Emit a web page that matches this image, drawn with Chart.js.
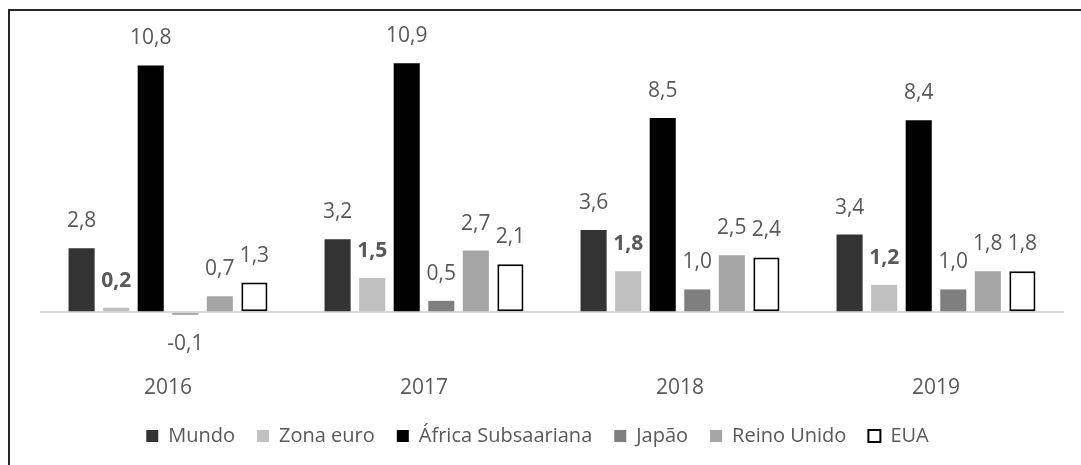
<!DOCTYPE html>
<html>
<head>
<meta charset="utf-8">
<script src="https://cdn.jsdelivr.net/npm/chart.js@4.4.1/dist/chart.umd.min.js"></script>
<style>
  html, body { margin: 0; padding: 0; background: #fff; }
  #wrap { position: relative; width: 1081px; height: 465px; overflow: hidden; }
  #frame {
    position: absolute; left: 8px; top: 9px; width: 1100px; height: 500px;
    border-top: 2px solid #262626; border-left: 2px solid #262626;
  }
  canvas { position: absolute; left: 0; top: 0; }
</style>
</head>
<body>
<div id="wrap">
  <div id="frame"></div>
  <canvas id="chart" width="1081" height="465"></canvas>
</div>
<script>
// ---- data ---------------------------------------------------
const years       = ['2016', '2017', '2018', '2019'];
const mundo       = [2.8, 3.2, 3.6, 3.4];
const zonaEuro    = [0.2, 1.5, 1.8, 1.2];
const africaSub   = [10.8, 10.9, 8.5, 8.4];
const japao       = [-0.1, 0.5, 1.0, 1.0];
const reinoUnido  = [0.7, 2.7, 2.5, 1.8];
const eua         = [1.3, 2.1, 2.4, 1.8];

const TEXT = '#595959';
const FONT = "'Open Sans', 'Segoe UI', sans-serif";

function series(label, data, fill, extra) {
  return Object.assign({
    label, data,
    backgroundColor: fill,
    borderColor: fill,
    borderWidth: 0,
    categoryPercentage: 0.81,
    barPercentage: 0.755,
  }, extra || {});
}

const datasets = [
  series('Mundo', mundo, '#333333'),
  series('Zona euro', zonaEuro, '#c0c0c0', { boldLabel: true }),
  series('África Subsaariana', africaSub, '#000000'),
  series('Japão', japao, '#7f7f7f'),
  series('Reino Unido', reinoUnido, '#a5a5a5'),
  series('EUA', eua, '#ffffff', { borderColor: '#000000', borderWidth: 2, borderSkipped: false }),
];

// value labels over (or under) each bar, decimal comma
const valueLabels = {
  id: 'valueLabels',
  afterDatasetsDraw(chart) {
    const ctx = chart.ctx;
    ctx.save();
    ctx.textAlign = 'center';
    ctx.textBaseline = 'middle';
    ctx.fillStyle = TEXT;
    chart.data.datasets.forEach((ds, i) => {
      ctx.font = (ds.boldLabel ? 'bold ' : '') + '21px ' + FONT;
      chart.getDatasetMeta(i).data.forEach((bar, j) => {
        const v = ds.data[j];
        const txt = v.toFixed(1).replace('.', ',');
        const y = v >= 0 ? bar.y - 27 : bar.y + 29;
        ctx.fillText(txt, bar.x, y);
      });
    });
    ctx.restore();
  }
};

new Chart(document.getElementById('chart'), {
  type: 'bar',
  data: { labels: years, datasets },
  plugins: [valueLabels],
  options: {
    responsive: false,
    animation: false,
    layout: { padding: { left: 0, right: 6, top: 38, bottom: 9 } },
    plugins: {
      tooltip: { enabled: false },
      legend: {
        position: 'bottom',
        labels: {
          color: TEXT,
          font: { family: FONT, size: 20 },
          boxWidth: 12,
          boxHeight: 12,
          padding: 22,
        },
      },
    },
    scales: {
      x: {
        grid: { display: false, drawTicks: false },
        border: { display: false },
        ticks: { color: TEXT, font: { family: FONT, size: 21 }, padding: 17 },
        afterFit: s => { s.height = 46; },
      },
      y: {
        min: -2,
        max: 12,
        border: { display: false },
        grid: {
          drawTicks: false,
          lineWidth: 2,
          color: c => c.tick.value === 0 ? '#d9d9d9' : 'rgba(0,0,0,0)',
        },
        ticks: { display: false, stepSize: 1 },
        afterFit: s => { s.width = 40; },
      },
      y2: {
        position: 'right',
        min: -2,
        max: 12,
        border: { display: false },
        grid: { display: false, drawTicks: false },
        ticks: { display: false },
        afterFit: s => { s.width = 11; },
      },
    },
  },
});
</script>
</body>
</html>
